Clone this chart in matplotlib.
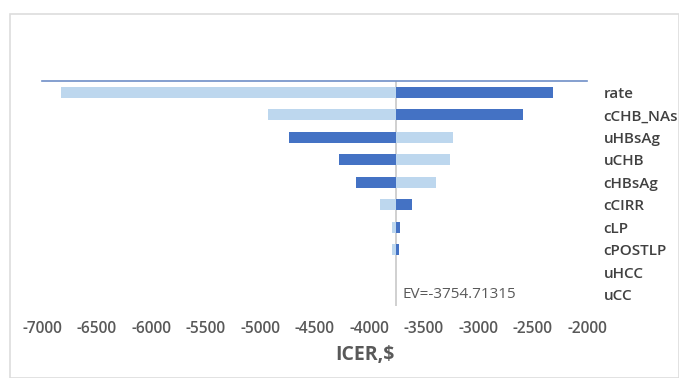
import matplotlib
matplotlib.use("Agg")
import matplotlib.pyplot as plt
from matplotlib.patches import Rectangle

plt.rcParams['font.family'] = ['Open Sans', 'DejaVu Sans']

# tornado data
params = ['rate', 'cCHB_NAs', 'uHBsAg', 'uCHB', 'cHBsAg', 'cCIRR', 'cLP', 'cPOSTLP', 'uHCC', 'uCC']
ev = -3754.71315
light_end = [-6826, -4927, -3229, -3257, -3385, -3899, -3790, -3790, ev, ev]
dark_end = [-2312, -2587, -4734, -4275, -4119, -3606, -3716, -3725, ev, ev]
xticks = list(range(-7000, -1999, 500))

light = '#BDD7EE'
dark = '#4472C4'
grey = '#595959'

W, H = 679, 378
fig = plt.figure(figsize=(W / 100, H / 100), dpi=100)

# chart frame (left + top edges like the excel box)
fig.patches.append(Rectangle((10 / W, 0), (W - 10) / W, 1 - 14 / H, transform=fig.transFigure,
                             fill=False, edgecolor='#DDDDDD', lw=1.2, clip_on=False))

ax = fig.add_axes([42 / W, 1 - 306 / H, (587 - 42) / W, (306 - 81) / H])

y = list(range(len(params)))
ax.barh(y, [v - ev for v in light_end], left=ev, height=0.5, color=light)
ax.barh(y, [v - ev for v in dark_end], left=ev, height=0.5, color=dark)
ax.axvline(ev, color='#C8C8C8', lw=1.2, zorder=0)

ax.set_xlim(-7000, -2000)
ax.set_ylim(len(params) - 0.5, -0.5)
ax.set_xticks(xticks)
ax.set_xticklabels([str(t) for t in xticks], fontsize=11.2, color=grey, fontweight='semibold')
ax.tick_params(axis='x', length=0, pad=11)

ax.yaxis.tick_right()
ax.set_yticks(y)
ax.set_yticklabels(params, fontsize=11, color='#404040', fontweight='semibold')
ax.tick_params(axis='y', length=0, pad=12)

for s in ['left', 'right', 'bottom']:
    ax.spines[s].set_visible(False)
ax.spines['top'].set_color('#6F8FC7')
ax.spines['top'].set_linewidth(1.2)

ax.annotate('EV=%.5f' % ev, xy=(ev, len(params) - 0.5), xytext=(5, 3), textcoords='offset points',
            fontsize=11, color=grey, ha='left', va='bottom')

fig.text(365 / W, 1 - 355 / H, 'ICER,$', fontsize=14, fontweight='bold', color=grey,
         ha='center', va='center')

fig.savefig('out.png', dpi=100)
